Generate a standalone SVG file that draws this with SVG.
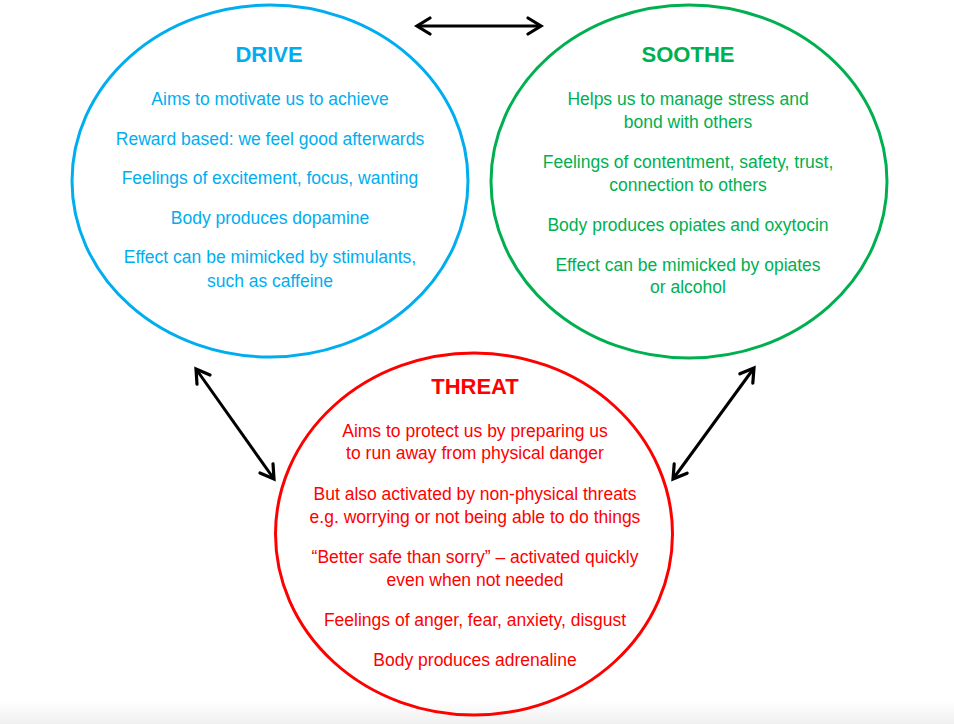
<svg xmlns="http://www.w3.org/2000/svg" width="954" height="724" viewBox="0 0 954 724">
<style>
.ring{fill:none;stroke-width:3}
.t{font-family:"Liberation Sans",Arial,sans-serif;text-anchor:middle}
.h{font-size:22px;font-weight:bold}
.b{font-size:17.5px}
.blue{fill:#00AEEF}
.green{fill:#00B050}
.red{fill:#FF0000}
.conn{stroke:#000;stroke-width:3;fill:none;marker-start:url(#ah);marker-end:url(#ah)}
</style>
<defs>
<marker id="ah" viewBox="-16 -10 20 20" refX="0" refY="0" markerWidth="20" markerHeight="20" markerUnits="userSpaceOnUse" orient="auto-start-reverse">
<path d="M-13,-8 L0,0 L-13,8" fill="none" stroke="#000" stroke-width="3.2" stroke-linecap="round" stroke-linejoin="miter"/>
</marker>
<linearGradient id="bg" x1="0" y1="0" x2="0" y2="1">
<stop offset="0" stop-color="#ffffff"/>
<stop offset="1" stop-color="#f0f0f0"/>
</linearGradient>
</defs>
<rect width="954" height="724" fill="#fff"/>
<rect x="0" y="700" width="954" height="24" fill="url(#bg)"/>
<g id="drive">
<ellipse class="ring" cx="270" cy="181" rx="198" ry="176" stroke="#00AEEF"/>
<text class="t h blue" x="269" y="62">DRIVE</text>
<text class="t b blue" x="270" y="105">Aims to motivate us to achieve</text>
<text class="t b blue" x="270" y="145">Reward based: we feel good afterwards</text>
<text class="t b blue" x="270" y="184">Feelings of excitement, focus, wanting</text>
<text class="t b blue" x="270" y="224">Body produces dopamine</text>
<text class="t b blue" x="270" y="263">Effect can be mimicked by stimulants,</text>
<text class="t b blue" x="270" y="287">such as caffeine</text>
</g>
<g id="soothe">
<ellipse class="ring" cx="689" cy="181.5" rx="198" ry="176.5" stroke="#00B050"/>
<text class="t h green" x="688" y="62">SOOTHE</text>
<text class="t b green" x="688" y="105">Helps us to manage stress and</text>
<text class="t b green" x="688" y="128">bond with others</text>
<text class="t b green" x="688" y="168">Feelings of contentment, safety, trust,</text>
<text class="t b green" x="688" y="191">connection to others</text>
<text class="t b green" x="688" y="231">Body produces opiates and oxytocin</text>
<text class="t b green" x="688" y="271">Effect can be mimicked by opiates</text>
<text class="t b green" x="688" y="293">or alcohol</text>
</g>
<g id="threat">
<ellipse class="ring" cx="474" cy="534" rx="198.5" ry="181" stroke="#FF0000"/>
<text class="t h red" x="475" y="394">THREAT</text>
<text class="t b red" x="475" y="437">Aims to protect us by preparing us</text>
<text class="t b red" x="475" y="459">to run away from physical danger</text>
<text class="t b red" x="475" y="500">But also activated by non-physical threats</text>
<text class="t b red" x="475" y="523">e.g. worrying or not being able to do things</text>
<text class="t b red" x="475" y="563">“Better safe than sorry” – activated quickly</text>
<text class="t b red" x="475" y="586">even when not needed</text>
<text class="t b red" x="475" y="626">Feelings of anger, fear, anxiety, disgust</text>
<text class="t b red" x="475" y="666">Body produces adrenaline</text>
</g>
<g id="connectors">
<line class="conn" x1="417" y1="26" x2="541" y2="26"/>
<line class="conn" x1="196" y1="369" x2="274" y2="479"/>
<line class="conn" x1="754" y1="368" x2="673" y2="479"/>
</g>
</svg>
